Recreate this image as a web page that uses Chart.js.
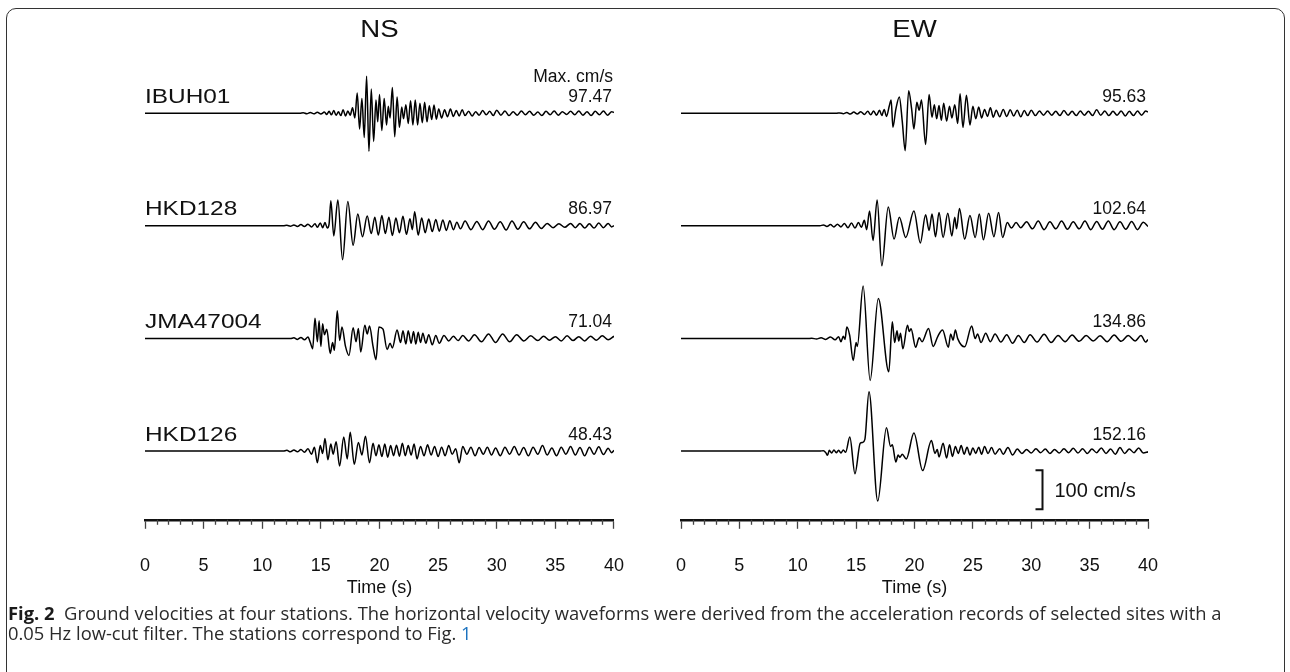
<!DOCTYPE html>
<html>
<head>
<meta charset="utf-8">
<script src="https://cdn.jsdelivr.net/npm/chart.js@4.4.0/dist/chart.umd.min.js"></script>
<style>
    html, body { margin: 0; padding: 0; background: #fff; }
    body { width: 1290px; height: 672px; position: relative; overflow: hidden; }
    .frame { position: absolute; left: 6px; top: 8px; width: 1279px; height: 720px; border: 1.5px solid #333; border-radius: 10px; box-sizing: border-box; }
    .panel { position: absolute; top: 0; }
    #js-nsPanel { left: 100px; }
    #js-ewPanel { left: 650px; }
    .caption { position: absolute; left: 8px; top: 603px; font-family: "Open Sans", sans-serif; font-size: 16.5px; line-height: 20px; color: #2a2a2a; white-space: nowrap; }
    .caption b { color: #1a1a1a; }
    .caption .ref { color: #1b72bf; }
</style>
</head>
<body>
<div class="frame"></div>
<div class="panel" id="js-nsPanel"><canvas id="js-nsChart" width="550" height="601"></canvas></div>
<div class="panel" id="js-ewPanel"><canvas id="js-ewChart" width="550" height="601"></canvas></div>
<div class="caption" id="js-caption"><span id="js-captionLine1"><b>Fig. 2</b>&nbsp; Ground velocities at four stations. The horizontal velocity waveforms were derived from the acceleration records of selected sites with a</span><br>0.05 Hz low-cut filter. The stations correspond to Fig. <span class="ref">1</span></div>

<script>
// stations, components and peak values (cm/s)
const stations = ['IBUH01', 'HKD128', 'JMA47004', 'HKD126'];
const components = ['NS', 'EW'];
const nsMax = [97.47, 86.97, 71.04, 48.43];
const ewMax = [95.63, 102.64, 134.86, 152.16];
const timeTicks = [0, 5, 10, 15, 20, 25, 30, 35, 40];

// waveforms: [time (s), velocity (cm/s)] turning points
const nsIBUH01 = [[0,0],[13.2,0],[13.5,1.5],[13.8,-1],[14.1,2],[14.4,-1.5],[14.7,2.5],[15.0,-2],[15.3,3],[15.5,-3],[15.7,5],[15.9,-4],[16.1,7],[16.3,-5],[16.5,4],[16.7,-6],[16.9,9],[17.1,-7],[17.3,6],[17.5,-5],[17.7,14],[17.9,-12],[18.1,52],[18.3,-40],[18.5,38],[18.7,-62],[18.9,95],[19.1,-97.47],[19.3,62],[19.5,-72],[19.7,34],[19.85,-22],[20.0,48],[20.2,-44],[20.4,38],[20.6,-30],[20.75,18],[20.9,-12],[21.1,66],[21.3,-60],[21.5,42],[21.7,-36],[21.9,16],[22.05,-14],[22.25,22],[22.45,-26],[22.65,32],[22.85,-30],[23.05,34],[23.25,-30],[23.45,26],[23.65,-24],[23.85,28],[24.05,-22],[24.25,19],[24.45,-16],[24.65,21],[24.85,-15],[25.05,11],[25.3,-12],[25.55,9],[25.8,-9],[26.05,11],[26.3,-8],[26.55,7],[26.8,-7],[27.05,9],[27.3,-6],[27.6,5],[27.9,-7],[28.2,4],[28.5,-5],[28.8,7],[29.1,-4],[29.4,5],[29.7,-6],[30.0,8],[30.35,-5],[30.7,6],[31.05,-6],[31.4,4],[31.75,-5],[32.1,6],[32.45,-4],[32.8,5],[33.15,-5],[33.5,3],[33.85,-6],[34.2,5],[34.55,-4],[34.9,6],[35.25,-5],[35.6,4],[35.95,-3],[36.3,5],[36.65,-4],[37.0,6],[37.35,-5],[37.7,4],[38.05,-6],[38.4,5],[38.75,-4],[39.1,6],[39.45,-5],[39.8,4],[40,2]];
const nsHKD128 = [[0,0],[11.8,0],[12.1,1],[12.4,-1],[12.7,2],[13.0,-2],[13.3,3],[13.6,-2],[13.9,4],[14.2,-3],[14.5,5],[14.7,-4],[14.95,7],[15.15,-5],[15.35,8],[15.55,-6],[15.7,4],[15.85,64],[16.1,-26],[16.45,66],[16.85,-86.97],[17.3,62],[17.75,-50],[18.15,30],[18.55,-28],[18.95,25],[19.3,-20],[19.6,22],[19.9,-24],[20.2,26],[20.5,-20],[20.8,22],[21.1,-25],[21.4,20],[21.7,-18],[22.0,24],[22.3,-22],[22.6,18],[22.8,-10],[23.0,36],[23.3,-24],[23.6,20],[23.9,-18],[24.2,17],[24.5,-15],[24.8,16],[25.1,-14],[25.4,15],[25.7,-12],[26.0,13],[26.3,-10],[26.6,9],[26.9,-8],[27.3,12],[27.8,-10],[28.3,11],[28.8,-10],[29.3,12],[29.8,-9],[30.3,10],[30.8,-11],[31.3,12],[31.8,-9],[32.3,10],[32.8,-8],[33.3,9],[33.8,-7],[34.3,6],[34.8,-5],[35.3,5],[35.8,-4],[36.3,6],[36.7,-5],[37.1,6],[37.5,-6],[37.9,5],[38.3,-6],[38.7,7],[39.1,-5],[39.5,6],[39.8,-3],[40,0]];
const nsJMA47004 = [[0,0],[12.4,0],[12.7,2],[13.0,-2],[13.3,3],[13.6,-3],[13.9,4],[14.1,-10],[14.3,-26],[14.5,52],[14.7,-8],[14.85,46],[15.0,-20],[15.15,38],[15.3,10],[15.5,24],[15.8,-38],[16.0,-10],[16.15,-30],[16.4,71.04],[16.6,-5],[16.8,30],[17.1,-20],[17.4,-43],[17.75,28],[18.0,-8],[18.2,26],[18.4,-34],[18.75,34],[18.95,12],[19.15,32],[19.45,-20],[19.7,-54],[19.95,30],[20.3,24],[20.65,-28],[20.9,-12],[21.1,-24],[21.5,22],[21.8,-10],[22.0,20],[22.25,-14],[22.45,20],[22.7,-12],[22.9,18],[23.1,-14],[23.3,16],[23.5,-10],[23.7,14],[23.95,-12],[24.2,10],[24.5,-16],[24.8,8],[25.1,-12],[25.5,8],[25.9,-6],[26.3,6],[26.7,-5],[27.1,8],[27.6,-6],[28.1,10],[28.7,-8],[29.3,12],[29.9,-10],[30.5,12],[31.1,-8],[31.7,10],[32.3,-6],[32.9,7],[33.5,-5],[34.0,6],[34.5,-4],[35.0,5],[35.5,-6],[36.0,7],[36.5,-5],[37.0,5],[37.5,-6],[38.0,6],[38.5,-4],[39.0,7],[39.5,-3],[40,6]];
const nsHKD126 = [[0,0],[11.8,0],[12.1,2],[12.4,-2],[12.7,3],[13.0,-2],[13.3,4],[13.6,-3],[13.9,6],[14.2,-8],[14.45,10],[14.7,-30],[14.95,14],[15.15,-6],[15.35,32],[15.6,-22],[15.85,18],[16.05,-8],[16.3,24],[16.6,-38],[16.95,36],[17.25,-20],[17.5,48.43],[17.85,-34],[18.2,22],[18.5,-10],[18.8,38],[19.15,-30],[19.45,20],[19.7,-12],[19.95,16],[20.2,-14],[20.45,18],[20.7,-16],[20.95,14],[21.2,-12],[21.45,15],[21.7,-13],[21.95,20],[22.2,-12],[22.45,14],[22.7,-10],[22.95,18],[23.2,-20],[23.5,12],[23.8,-12],[24.1,16],[24.4,-10],[24.7,12],[25.0,-14],[25.3,10],[25.6,-12],[25.9,14],[26.2,-8],[26.5,6],[26.8,-30],[27.1,12],[27.45,-8],[27.8,10],[28.15,-12],[28.5,9],[28.85,-8],[29.2,10],[29.55,-10],[29.9,8],[30.3,-12],[30.7,10],[31.1,-8],[31.5,12],[31.9,-10],[32.3,9],[32.7,-12],[33.1,10],[33.5,-8],[33.9,14],[34.3,-10],[34.7,8],[35.1,-12],[35.5,10],[35.9,-8],[36.3,12],[36.7,-10],[37.1,9],[37.5,-12],[37.9,10],[38.3,-8],[38.7,11],[39.1,-9],[39.5,7],[39.8,-4],[40,2]];

const ewIBUH01 = [[0,0],[13.3,0],[13.6,1],[13.9,-1],[14.2,2],[14.5,-2],[14.8,3],[15.1,-2],[15.4,4],[15.7,-3],[16.0,5],[16.25,-4],[16.5,6],[16.75,-5],[17.0,8],[17.2,-6],[17.4,10],[17.6,-8],[17.85,20],[18.0,34],[18.15,-36],[18.4,10],[18.7,42],[18.95,-20],[19.2,-95.63],[19.5,58],[19.75,12],[19.95,-40],[20.2,28],[20.4,8],[20.6,34],[20.95,-80],[21.25,48],[21.5,-10],[21.7,22],[21.9,-14],[22.1,20],[22.3,-18],[22.5,26],[22.75,-20],[23.0,18],[23.2,-12],[23.45,22],[23.7,-26],[23.9,50],[24.15,-36],[24.45,46],[24.75,-30],[25.0,18],[25.25,-14],[25.5,16],[25.75,-12],[26.0,10],[26.25,-8],[26.5,14],[26.75,-10],[27.0,8],[27.3,-9],[27.6,10],[27.9,-8],[28.2,9],[28.5,-7],[28.8,8],[29.1,-9],[29.4,7],[29.7,-6],[30.0,8],[30.35,-6],[30.7,6],[31.05,-5],[31.4,6],[31.75,-5],[32.1,5],[32.45,-6],[32.8,7],[33.15,-5],[33.5,5],[33.85,-6],[34.2,6],[34.55,-5],[34.9,5],[35.25,-6],[35.6,9],[35.95,-5],[36.3,6],[36.65,-6],[37.0,5],[37.35,-5],[37.7,6],[38.05,-7],[38.4,5],[38.75,-6],[39.1,6],[39.45,-5],[39.8,6],[40,3]];
const ewHKD128 = [[0,0],[11.9,0],[12.2,2],[12.5,-2],[12.8,3],[13.1,-3],[13.4,4],[13.7,-3],[14.0,6],[14.3,-5],[14.6,7],[14.9,-6],[15.2,8],[15.45,-4],[15.7,14],[15.9,-10],[16.15,38],[16.45,-38],[16.8,66],[17.2,-102.64],[17.75,48],[18.25,-34],[18.7,22],[19.25,-30],[19.95,38],[20.5,-44],[20.95,28],[21.25,-12],[21.5,30],[21.8,-28],[22.1,34],[22.45,-30],[22.85,32],[23.2,-26],[23.45,22],[23.6,-8],[23.85,44],[24.3,-34],[24.75,26],[25.2,-30],[25.55,30],[25.9,-36],[26.35,32],[26.8,-28],[27.2,34],[27.55,-30],[27.95,8],[28.3,-6],[28.7,8],[29.1,-5],[29.6,10],[30.1,-8],[30.6,12],[31.1,-10],[31.6,10],[32.1,-8],[32.6,12],[33.1,-9],[33.6,10],[34.1,-8],[34.6,12],[35.1,-10],[35.6,11],[36.1,-9],[36.6,12],[37.1,-10],[37.6,10],[38.1,-9],[38.6,11],[39.1,-10],[39.6,9],[40,-2]];
const ewJMA47004 = [[0,0],[10.8,0],[11.2,1],[11.6,-1],[12.0,2],[12.4,-2],[12.8,4],[13.2,-3],[13.5,5],[13.7,-8],[13.9,6],[14.05,-2],[14.2,30],[14.45,8],[14.75,-56],[15.0,-10],[15.1,-20],[15.6,134.86],[16.2,-107],[16.9,103],[17.8,-85],[18.1,43],[18.3,-10],[18.5,20],[18.65,-6],[18.8,14],[19.0,-26],[19.4,34],[19.55,18],[19.7,25],[20.1,-22],[20.4,2],[20.65,-8],[21.2,26],[21.6,-20],[22.0,6],[22.4,22],[22.9,-22],[23.1,12],[23.3,-4],[23.5,22],[23.7,0],[24.3,-21],[24.9,32],[25.2,0],[25.4,12],[25.7,-10],[26.1,14],[26.5,-8],[26.9,12],[27.4,-9],[27.9,10],[28.4,-12],[28.9,8],[29.4,-10],[29.9,10],[30.5,-9],[31.1,11],[31.7,-10],[32.3,8],[32.9,-8],[33.5,9],[34.1,-7],[34.7,8],[35.3,-6],[35.9,7],[36.5,-8],[37.1,9],[37.7,-7],[38.3,8],[38.9,-6],[39.4,8],[39.8,-9],[40,-2]];
const ewHKD126 = [[0,0],[11.9,0],[12.2,1],[12.4,-4],[12.55,-11],[12.7,2],[12.9,-5],[13.1,3],[13.3,-4],[13.5,2],[13.7,-5],[13.9,3],[14.1,-3],[14.46,36],[14.9,-58],[15.35,20],[15.55,22],[15.75,30],[16.1,152.16],[16.85,-128],[17.6,60],[17.95,12],[18.1,16],[18.4,-28],[18.6,-10],[18.75,-16],[18.95,-8],[19.3,-20],[19.95,46],[20.7,-50],[21.45,27],[21.75,-6],[21.95,4],[22.1,-15],[22.45,20],[22.75,-18],[23.0,16],[23.25,-14],[23.5,12],[23.75,-6],[24.0,14],[24.25,-8],[24.5,10],[24.75,-10],[25.0,8],[25.25,-6],[25.5,10],[25.75,-8],[26.0,12],[26.3,-6],[26.6,9],[26.9,-8],[27.3,6],[27.6,-8],[28.0,9],[28.4,-10],[28.8,5],[29.2,-6],[29.6,4],[30.0,-5],[30.4,6],[30.8,-4],[31.2,5],[31.6,-6],[32.0,4],[32.4,-5],[32.8,6],[33.2,-4],[33.6,7],[34.0,-5],[34.4,6],[34.8,-6],[35.2,5],[35.6,-4],[36.0,8],[36.4,-6],[36.8,5],[37.2,-8],[37.6,9],[38.0,-6],[38.4,5],[38.8,-4],[39.2,8],[39.6,-5],[40,-2]];

const nsTraces = [nsIBUH01, nsHKD128, nsJMA47004, nsHKD126];
const ewTraces = [ewIBUH01, ewHKD128, ewJMA47004, ewHKD126];

// vertical position of each trace baseline, in cm/s on the hidden y axis
const traceOffsets = [1041, 753, 464, 176];
const Y_MAX = 1180;
const FONT = '"Liberation Sans", Arial, Helvetica, sans-serif';

// draws minor ticks, panel title, station names, peak values and the 100 cm/s bar
const seismoLabels = {
    id: 'seismoLabels',
    afterDraw(chart, args, opts) {
        const { ctx, chartArea } = chart;
        const x = chart.scales.x;
        const y = chart.scales.y;
        ctx.save();

        ctx.strokeStyle = '#444';
        ctx.lineWidth = 1.3;
        for (let t = x.min; t <= x.max; t++) {
            if (t % 5 === 0) continue;
            const px = Math.round(x.getPixelForValue(t)) + 0.5;
            ctx.beginPath();
            ctx.moveTo(px, chartArea.bottom);
            ctx.lineTo(px, chartArea.bottom + 5);
            ctx.stroke();
        }

        ctx.fillStyle = '#111';
        ctx.textAlign = 'center';
        ctx.textBaseline = 'alphabetic';
        ctx.font = '23px ' + FONT;
        const cx = (chartArea.left + chartArea.right) / 2;
        ctx.save();
        ctx.translate(cx, 37);
        ctx.scale(1.2, 1);
        ctx.fillText(opts.title, 0, 0);
        ctx.restore();

        traceOffsets.forEach((off, i) => {
            const base = y.getPixelForValue(off);
            if (opts.names) {
                ctx.save();
                ctx.font = '20px ' + FONT;
                ctx.textAlign = 'left';
                ctx.translate(chartArea.left, base - 10.5);
                ctx.scale(1.22, 1);
                ctx.fillText(opts.names[i], 0, 0);
                ctx.restore();
            }
            ctx.font = '17.5px ' + FONT;
            ctx.textAlign = 'right';
            ctx.fillText(opts.maxima[i].toFixed(2), chartArea.right - 2, base - 11.5);
            if (i === 0 && opts.header) {
                ctx.fillText(opts.header, chartArea.right - 1, base - 31);
            }
        });

        if (opts.scaleBar) {
            const bx = Math.round(x.getPixelForValue(opts.scaleBar.at)) + 0.5;
            const top = y.getPixelForValue(opts.scaleBar.from);
            const bottom = y.getPixelForValue(opts.scaleBar.from - 100);
            ctx.strokeStyle = '#111';
            ctx.lineWidth = 2;
            ctx.beginPath();
            ctx.moveTo(bx - 7, top);
            ctx.lineTo(bx, top);
            ctx.lineTo(bx, bottom);
            ctx.lineTo(bx - 7, bottom);
            ctx.stroke();
            ctx.font = '20px ' + FONT;
            ctx.textAlign = 'left';
            ctx.fillText('100 cm/s', bx + 12, (top + bottom) / 2 + 7);
        }
        ctx.restore();
    }
};

function buildDatasets(traces) {
    return traces.map((trace, i) => ({
        data: trace.map(p => ({ x: p[0], y: p[1] + traceOffsets[i] })),
        borderColor: '#000',
        borderWidth: 1.5,
        pointRadius: 0,
        cubicInterpolationMode: 'monotone',
        fill: false
    }));
}

function getChartConfig(traces, labelOptions, padding) {
    return {
        type: 'line',
        data: { datasets: buildDatasets(traces) },
        options: {
            responsive: false,
            animation: false,
            layout: { padding: padding },
            plugins: {
                legend: { display: false },
                tooltip: { enabled: false },
                seismoLabels: labelOptions
            },
            scales: {
                x: {
                    type: 'linear',
                    min: timeTicks[0],
                    max: timeTicks[timeTicks.length - 1],
                    border: { display: true, color: '#111', width: 2.5 },
                    grid: { drawOnChartArea: false, drawTicks: true, tickLength: 9, tickWidth: 1.3, tickColor: '#444' },
                    afterBuildTicks: (scale) => { scale.ticks = timeTicks.map(v => ({ value: v })); },
                    ticks: {
                        padding: 26,
                        color: '#111',
                        maxRotation: 0,
                        autoSkip: false,
                        font: { family: FONT, size: 18 }
                    },
                    title: {
                        display: true,
                        text: 'Time (s)',
                        color: '#111',
                        font: { family: FONT, size: 18 },
                        padding: { top: -25, bottom: 0 }
                    }
                },
                y: { display: false, min: 0, max: Y_MAX }
            }
        },
        plugins: [seismoLabels]
    };
}

new Chart(document.getElementById('js-nsChart'), getChartConfig(
    nsTraces,
    { title: components[0], names: stations, maxima: nsMax, header: 'Max. cm/s' },
    { left: 45, right: 33, top: 59, bottom: 2 }
));

new Chart(document.getElementById('js-ewChart'), getChartConfig(
    ewTraces,
    { title: components[1], names: null, maxima: ewMax, header: null, scaleBar: { at: 30.9, from: 127 } },
    { left: 26, right: 52, top: 59, bottom: 2 }
));

// size the caption so its first line spans the figure width
const captionEl = document.getElementById('js-caption');
const firstLine = document.getElementById('js-captionLine1');
const lineWidth = firstLine.getBoundingClientRect().width;
captionEl.style.fontSize = (16.5 * 1214 / lineWidth).toFixed(2) + 'px';
</script>
</body>
</html>
